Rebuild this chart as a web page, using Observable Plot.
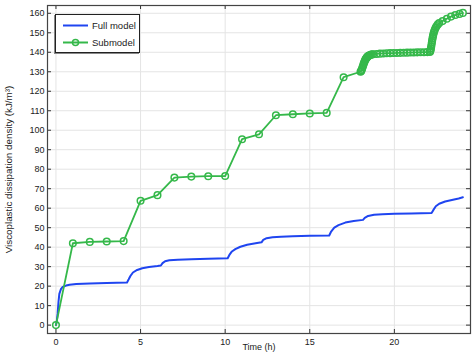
<!DOCTYPE html>
<html>
<head>
<meta charset="utf-8">
<script src="https://cdn.jsdelivr.net/npm/d3@7"></script>
<script src="https://cdn.jsdelivr.net/npm/@observablehq/plot@0.6"></script>
<style>
  html, body { margin: 0; padding: 0; background: #fff; }
  #wrap { position: relative; width: 474px; height: 355px; }
  #legend { position: absolute; left: 55px; top: 14px; width: 83px; height: 37px;
    background: #fff; border: 1px solid #222; box-shadow: -1px 1px 0 #888;
    font-family: "Liberation Sans", Arial, sans-serif; font-size: 9.5px; color: #222; }
  #legend svg { position: absolute; left: 0; top: 0; }
</style>
</head>
<body>
<div id="wrap"></div>
<script>
// ---- data ----
const xTicks = [0, 5, 10, 15, 20];
const yTicks = [0, 10, 20, 30, 40, 50, 60, 70, 80, 90, 100, 110, 120, 130, 140, 150, 160];
const seriesNames = ["Full model", "Submodel"];

const fullTime = [0, 0.05, 0.1, 0.15, 0.2, 0.3, 0.4, 0.6, 0.8, 1.2, 2, 3, 4.2, 4.3, 4.4, 4.55, 4.8, 5.1, 5.5, 6.0, 6.2, 6.3, 6.45, 6.7, 7.2, 8, 9, 10.15, 10.25, 10.4, 10.6, 10.9, 11.3, 11.8, 12.15, 12.25, 12.45, 12.8, 13.3, 14, 15, 16.15, 16.25, 16.45, 16.7, 17.1, 17.6, 18.15, 18.25, 18.45, 18.8, 19.3, 20, 21, 22.2, 22.3, 22.45, 22.65, 23.0, 23.4, 23.8, 24.05];
const fullValue = [0, 2, 6, 12, 16, 18.6, 19.6, 20.3, 20.7, 21.1, 21.4, 21.6, 21.9, 23.5, 25.2, 27.0, 28.3, 29.2, 29.8, 30.3, 30.6, 31.8, 32.8, 33.3, 33.6, 33.8, 34.0, 34.3, 36.0, 37.8, 39.0, 40.2, 41.2, 42.0, 42.5, 43.7, 44.6, 45.1, 45.4, 45.6, 45.8, 46.0, 47.8, 50.0, 51.3, 52.6, 53.4, 54.0, 55.0, 56.0, 56.6, 56.9, 57.1, 57.3, 57.5, 59.0, 61.0, 62.3, 63.4, 64.2, 65.0, 65.6];

const subTime = [0, 1, 2, 3, 4, 5, 6, 7, 8, 9, 10, 11, 12, 13, 14, 15, 16, 17,
  18.0, 18.03, 18.06, 18.09, 18.12, 18.15, 18.18, 18.21, 18.24, 18.27, 18.30, 18.33, 18.36, 18.39, 18.42, 18.46, 18.50, 18.55, 18.60, 18.67, 18.75,
  18.95, 19.15, 19.35, 19.55, 19.75, 19.95, 20.15, 20.35, 20.55, 20.75, 20.95, 21.15, 21.35, 21.55, 21.75, 21.95, 22.1,
  22.12, 22.14, 22.16, 22.18, 22.20, 22.22, 22.24, 22.26, 22.28, 22.30, 22.33, 22.36, 22.40, 22.45, 22.50, 22.57, 22.65,
  22.85, 23.1, 23.35, 23.6, 23.85, 24.05];
const subValue = [0, 42.0, 42.7, 42.9, 43.1, 63.8, 66.7, 75.7, 76.2, 76.4, 76.5, 95.4, 97.9, 107.7, 108.2, 108.6, 108.9, 127.2,
  130.0, 130.3, 130.8, 131.5, 132.3, 133.1, 133.9, 134.6, 135.3, 135.9, 136.4, 136.8, 137.2, 137.5, 137.8, 138.1, 138.3, 138.5, 138.7, 138.9, 139.0,
  139.15, 139.3, 139.4, 139.5, 139.55, 139.6, 139.65, 139.7, 139.75, 139.8, 139.85, 139.9, 139.95, 140.0, 140.05, 140.1, 140.2,
  140.5, 141.2, 142.0, 143.0, 144.1, 145.2, 146.3, 147.3, 148.2, 149.0, 150.0, 150.9, 151.8, 152.7, 153.5, 154.3, 155.0,
  156.0, 157.2, 158.3, 159.1, 159.7, 160.2];

const xLabel = "Time (h)";
const yLabel = "Viscoplastic dissipation density (kJ/m³)";

// ---- build ----
const blue = "#1f45f0";
const green = "#35b84a";
const full = fullTime.map((t, i) => ({t, v: fullValue[i]}));
const sub = subTime.map((t, i) => ({t, v: subValue[i]}));

const W = 474, H = 355, mL = 47, mR = 4, mT = 5, mB = 22;
const fw = W - mL - mR, fh = H - mT - mB, tl = 4;

const chart = Plot.plot({
  width: W, height: H,
  marginLeft: mL, marginRight: mR, marginTop: mT, marginBottom: mB,
  style: {fontFamily: "'Liberation Sans', Arial, sans-serif", fontSize: "9px", color: "#222", background: "#fff"},
  x: {domain: [-0.5, 24.5], ticks: xTicks, tickSize: 0, tickPadding: 5, label: null},
  y: {domain: [-4.3, 164], ticks: yTicks, tickSize: 0, tickPadding: 3, label: null},
  marks: [
    Plot.ruleX(xTicks, {stroke: "#e4e4e4", strokeWidth: 1}),
    Plot.ruleY(yTicks, {stroke: "#e4e4e4", strokeWidth: 1}),
    Plot.ruleX(xTicks, {stroke: "#333", insetTop: fh - tl}),
    Plot.ruleX(xTicks, {stroke: "#333", insetBottom: fh - tl}),
    Plot.ruleY(yTicks, {stroke: "#333", insetRight: fw - tl}),
    Plot.ruleY(yTicks, {stroke: "#333", insetLeft: fw - tl}),
    Plot.line(full, {x: "t", y: "v", stroke: blue, strokeWidth: 2}),
    Plot.line(sub, {x: "t", y: "v", stroke: green, strokeWidth: 1.8}),
    Plot.dot(sub, {x: "t", y: "v", r: 3.3, stroke: green, strokeWidth: 1.5, fill: "none"}),
    Plot.frame({stroke: "#444", strokeWidth: 1.2}),
    Plot.text([xLabel], {frameAnchor: "bottom", textAnchor: "middle", lineAnchor: "middle", dy: 14, fontSize: 9, fill: "#222"}),
    Plot.text([yLabel], {frameAnchor: "left", textAnchor: "middle", lineAnchor: "middle", dx: -38.5, rotate: -90, fontSize: 9.8, fill: "#222"})
  ]
});

const wrap = document.getElementById("wrap");
wrap.appendChild(chart);

// legend
const leg = document.createElement("div");
leg.id = "legend";
wrap.appendChild(leg);
const ls = d3.select(leg).append("svg").attr("width", 83).attr("height", 37);
const colors = [blue, green];
seriesNames.forEach((name, i) => {
  const y = 10.5 + i * 17;
  ls.append("line").attr("x1", 7).attr("x2", 32).attr("y1", y).attr("y2", y)
    .attr("stroke", colors[i]).attr("stroke-width", 2);
  if (i === 1) ls.append("circle").attr("cx", 19.5).attr("cy", y).attr("r", 3)
    .attr("fill", "none").attr("stroke", green).attr("stroke-width", 1.5);
  ls.append("text").attr("x", 36).attr("y", y).attr("dy", "0.35em").text(name)
    .attr("font-family", "'Liberation Sans', Arial, sans-serif").attr("font-size", "9.5px").attr("fill", "#222");
});
</script>
</body>
</html>
